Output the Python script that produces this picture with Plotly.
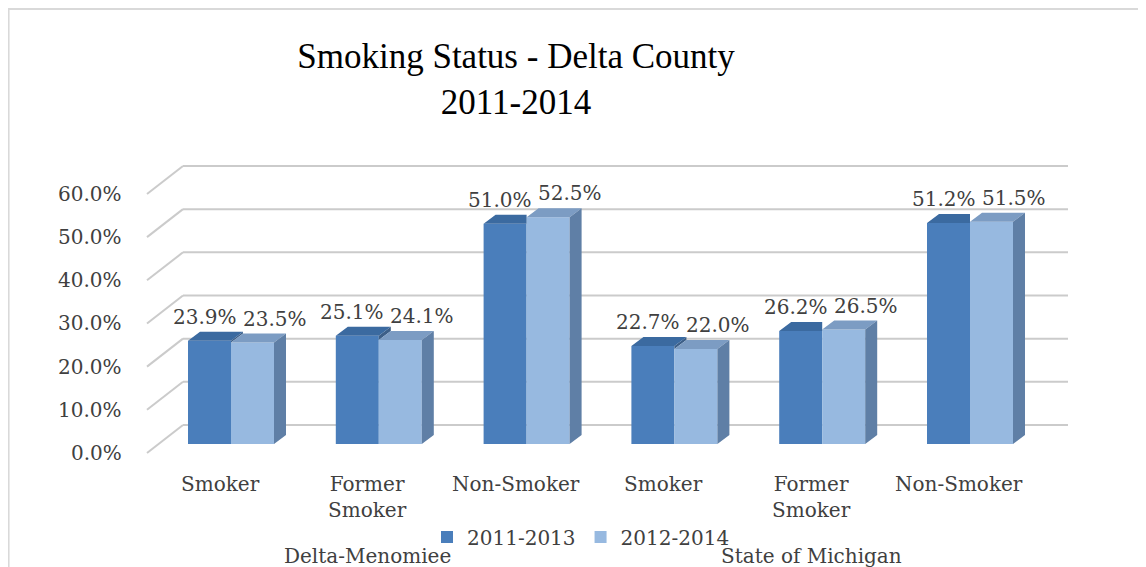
import plotly.graph_objects as go

# ---------------- data ----------------
group_labels = ["Delta-Menomiee", "State of Michigan"]
category_labels = ["Smoker", "Former Smoker", "Non-Smoker",
                   "Smoker", "Former Smoker", "Non-Smoker"]
series_names = ["2011-2013", "2012-2014"]
values_2011_2013 = [23.9, 25.1, 51.0, 22.7, 26.2, 51.2]
values_2012_2014 = [23.5, 24.1, 52.5, 22.0, 26.5, 51.5]
y_ticks = [0, 10, 20, 30, 40, 50, 60]
y_tick_labels = ["0.0%", "10.0%", "20.0%", "30.0%", "40.0%", "50.0%", "60.0%"]
title_text = "Smoking Status - Delta County<br>2011-2014"

# ---------------- geometry / style ----------------
OFF = 8                          # page body margin
W, H = 1146 - OFF, 567 - OFF     # figure size
CX0, CSTEP = 231.0, 147.8        # screen pixel of first category centre, pixels per category
Y0, PPP = 444.0, 4.317           # screen pixel of value 0 (bar front), pixels per percent


def ux(px):
    return (px - CX0) / CSTEP


def uy(px):
    return (Y0 - px) / PPP


def px_x(px):
    return (px - OFF) / W


def px_y(py):
    return 1 - (py - OFF) / H


bar_w = 43.0 / CSTEP
ddx = 12.0 / CSTEP
ddy = 9.0 / PPP
back_dy = 19.0 / PPP
front_dy = -9.0 / PPP
back_x0, back_x1, front_x0 = ux(183), ux(1068), ux(147)

font_lbl = "DejaVu Serif"
txt_col = "#404040"
grid_col = "#CBCBCB"

front_cols = ["#4A7EBB", "#97B9E0"]
top_cols = ["#3B6AA0", "#7C9CC3"]
side_cols = ["#3D5F88", "#5F7FA6"]
series_vals = [values_2011_2013, values_2012_2014]
offsets = [-bar_w, 0.0]
label_xshift = [-5, 22]

fig = go.Figure()

n = len(category_labels)
idx = list(range(n))

# front faces (bars)
for s, vals in enumerate(series_vals):
    fig.add_trace(go.Bar(x=idx, y=vals, width=bar_w, offset=offsets[s],
                         name=series_names[s],
                         marker=dict(color=front_cols[s], line=dict(width=0))))

# 3D faces (drawn above bars): dark side (only where it rises above the light box),
# dark top, light top, light side
d_side_x, d_side_y, d_top_x, d_top_y = [], [], [], []
l_side_x, l_side_y, l_top_x, l_top_y = [], [], [], []
for i in idx:
    vd, vl = values_2011_2013[i], values_2012_2014[i]
    x0 = i - bar_w
    x1 = i
    x2 = i + bar_w
    if vd > vl:
        d_side_x += [x1, x1, x1 + ddx, x1 + ddx, x1, None]
        d_side_y += [vl, vd, vd + ddy, vl + ddy, vl, None]
        d_top_x += [x0, x1, x1 + ddx, x0 + ddx, x0, None]
        d_top_y += [vd, vd, vd + ddy, vd + ddy, vd, None]
    else:
        d_top_x += [x0, x1, x1, x0 + ddx, x0, None]
        d_top_y += [vd, vd, vd + ddy, vd + ddy, vd, None]
    l_top_x += [x1, x2, x2 + ddx, x1 + ddx, x1, None]
    l_top_y += [vl, vl, vl + ddy, vl + ddy, vl, None]
    l_side_x += [x2, x2 + ddx, x2 + ddx, x2, x2, None]
    l_side_y += [0, ddy, vl + ddy, vl, 0, None]

for fx, fy, col in [(d_side_x, d_side_y, side_cols[0]),
                    (d_top_x, d_top_y, top_cols[0]),
                    (l_top_x, l_top_y, top_cols[1]),
                    (l_side_x, l_side_y, side_cols[1])]:
    fig.add_trace(go.Scatter(x=fx, y=fy, fill="toself", mode="lines",
                             line=dict(width=0, color=col), fillcolor=col,
                             showlegend=False, hoverinfo="skip"))

shapes = []
# perspective gridlines
for t in y_ticks:
    shapes.append(dict(type="line", xref="x", yref="y", layer="below",
                       x0=back_x0, x1=back_x1, y0=t + back_dy, y1=t + back_dy,
                       line=dict(color=grid_col, width=2)))
    shapes.append(dict(type="line", xref="x", yref="y", layer="below",
                       x0=front_x0, x1=back_x0, y0=t + front_dy, y1=t + back_dy,
                       line=dict(color=grid_col, width=2)))
# chart frame
shapes.append(dict(type="rect", xref="paper", yref="paper",
                   x0=px_x(OFF) + 0.0005, x1=1.05, y0=-0.05, y1=px_y(9),
                   line=dict(color="#D9D9D9", width=2), layer="below"))

annotations = []
# y tick labels
for t, lab in zip(y_ticks, y_tick_labels):
    annotations.append(dict(x=px_x(124), xref="paper", y=t + front_dy, yref="y",
                            text=lab, showarrow=False, xanchor="right",
                            yanchor="middle",
                            font=dict(family=font_lbl, size=20, color=txt_col)))
# category labels
for i, lab in enumerate(category_labels):
    annotations.append(dict(x=i + ux(CX0 - 11), xref="x", y=px_y(470), yref="paper",
                            text=lab.replace(" ", "<br>"), showarrow=False,
                            xanchor="center", yanchor="top",
                            font=dict(family=font_lbl, size=20, color=txt_col)))
# group labels
for g, lab in enumerate(group_labels):
    annotations.append(dict(x=g * 3 + 1 + ux(CX0 - 11), xref="x", y=px_y(556),
                            yref="paper", text=lab, showarrow=False,
                            xanchor="center", yanchor="middle",
                            font=dict(family=font_lbl, size=20, color=txt_col)))
# data labels
for s, vals in enumerate(series_vals):
    for i, v in enumerate(vals):
        annotations.append(dict(x=i + offsets[s] + bar_w / 2, xref="x", y=v, yref="y",
                                text=f"{v:.1f}%", showarrow=False,
                                xanchor="center", yanchor="middle",
                                xshift=label_xshift[s], yshift=24,
                                font=dict(family=font_lbl, size=20, color=txt_col)))

fig.update_layout(
    width=W, height=H, autosize=False,
    margin=dict(l=0, r=0, t=0, b=0),
    paper_bgcolor="white", plot_bgcolor="white",
    barmode="overlay",
    title=dict(text=title_text, x=px_x(516), xanchor="center", xref="container",
               y=px_y(68), yanchor="middle", yref="container",
               font=dict(family="Liberation Serif", size=35, color="black")),
    xaxis=dict(range=[ux(OFF), ux(OFF + W)], visible=False, fixedrange=True),
    yaxis=dict(range=[uy(OFF + H), uy(OFF)], visible=False, fixedrange=True),
    showlegend=True,
    legend=dict(orientation="h", x=px_x(427), xanchor="left", y=px_y(537),
                yanchor="middle", bgcolor="rgba(0,0,0,0)",
                font=dict(family=font_lbl, size=20, color=txt_col),
                itemclick=False, itemdoubleclick=False),
    shapes=shapes,
    annotations=annotations,
)

fig.write_html("out.html")
